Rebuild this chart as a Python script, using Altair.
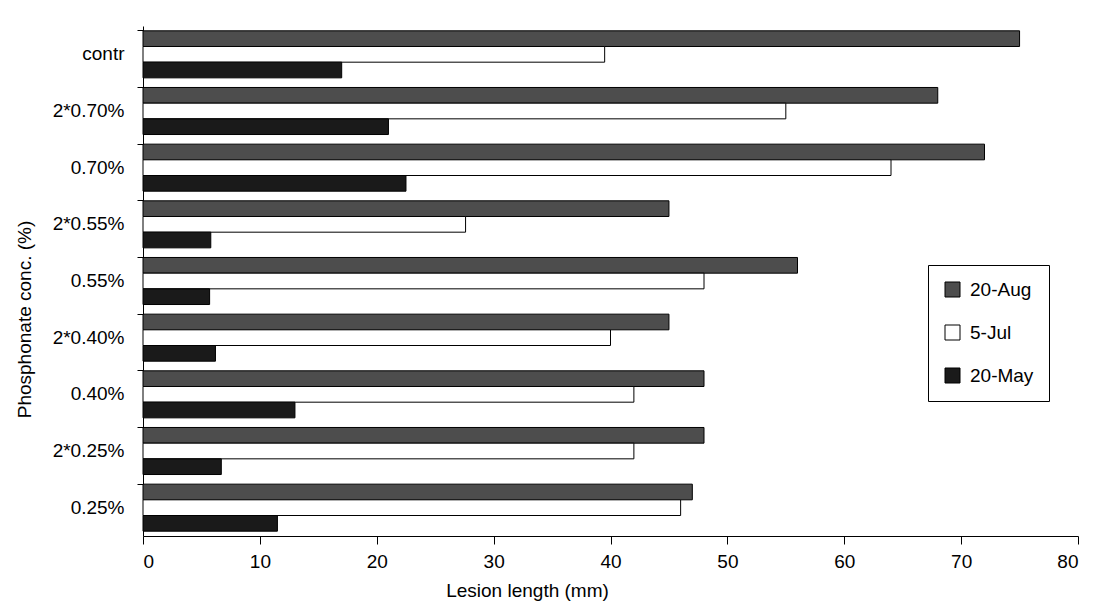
import altair as alt
import pandas as pd

categories = ["contr", "2*0.70%", "0.70%", "2*0.55%", "0.55%",
              "2*0.40%", "0.40%", "2*0.25%", "0.25%"]
series = ["20-Aug", "5-Jul", "20-May"]
aug = [75, 68, 72, 45, 56, 45, 48, 48, 47]
jul = [39.5, 55, 64, 27.6, 48, 40, 42, 42, 46]
may = [17, 21, 22.5, 5.8, 5.7, 6.2, 13, 6.7, 11.5]
x_ticks = [0, 10, 20, 30, 40, 50, 60, 70, 80]

rows = []
for i, c in enumerate(categories):
    for s, vals in zip(series, [aug, jul, may]):
        rows.append({"conc": c, "date": s, "value": vals[i]})
df = pd.DataFrame(rows)

FONT = "Liberation Sans"
FS = 19

chart = alt.Chart(df).mark_bar(stroke="black", strokeWidth=1).encode(
    y=alt.Y("conc:N", sort=categories,
            scale=alt.Scale(paddingInner=0.17, paddingOuter=0.085),
            axis=alt.Axis(title="Phosphonate conc. (%)", bandPosition=0,
                          ticks=True, tickSize=6, tickColor="black",
                          domainColor="black", labelPadding=13,
                          labelFontSize=FS, labelFont=FONT, labelColor="black",
                          titleFont=FONT, titleFontSize=FS, titleFontWeight="normal",
                          titleColor="black", titleX=-119, titleY=293,
                          titleAngle=-90, titleBaseline="middle")),
    yOffset=alt.YOffset("date:N", sort=series,
                        scale=alt.Scale(paddingInner=0, paddingOuter=0)),
    x=alt.X("value:Q",
            scale=alt.Scale(domain=[0, 80], nice=False),
            axis=alt.Axis(title="Lesion length (mm)", values=x_ticks,
                          grid=False, tickSize=8, tickColor="black",
                          domainColor="black", labelFontSize=FS,
                          labelFont=FONT, labelColor="black", labelPadding=8,
                          titleFont=FONT, titleFontSize=FS,
                          titleFontWeight="normal", titleColor="black",
                          titleX=384, titleY=54, titleBaseline="middle")),
    color=alt.Color("date:N", sort=series,
                    scale=alt.Scale(domain=series,
                                    range=["#4d4d4d", "#ffffff", "#1a1a1a"]),
                    legend=alt.Legend(title=None, orient="none",
                                      legendX=785, legendY=239,
                                      symbolType="square", symbolSize=225,
                                      symbolStrokeColor="black",
                                      symbolStrokeWidth=1,
                                      labelFont=FONT, labelFontSize=FS,
                                      labelColor="black", labelOffset=8,
                                      rowPadding=23, padding=15,
                                      strokeColor="black", fillColor="white")),
).properties(
    width=935, height=510,
    autosize=alt.AutoSizeParams(type="none"),
    padding={"left": 143, "top": 26, "right": 16, "bottom": 66},
).configure_view(stroke=None).configure_axis(domainWidth=1)

chart.save("out.html", embed_options={"renderer": "svg", "actions": False})
